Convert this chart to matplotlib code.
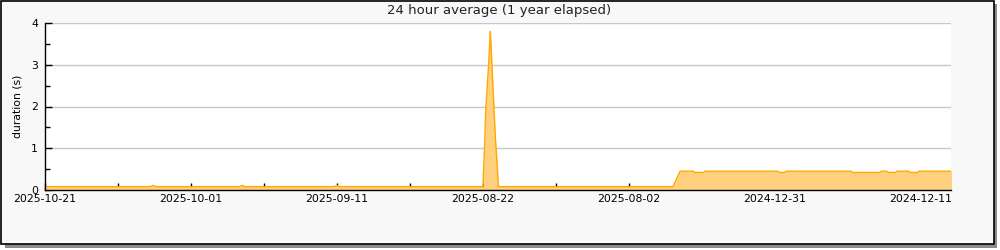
import matplotlib
matplotlib.use("Agg")
import matplotlib.pyplot as plt
from matplotlib.patches import Rectangle

# sample position (days back from 2025-10-21, gaps in data are skipped) and 24h average
day = [0, 14.4, 14.8, 15.2, 26.6, 27.0, 27.4, 39.6, 40.0, 40.4,
       60.0, 60.04, 60.18, 60.37, 60.59, 60.78, 60.92, 61.0, 61.14, 61.33,
       61.51, 61.68, 61.92, 62.1,
       86.0, 87.0, 88.8, 89.0, 90.2, 90.4, 100.4, 100.6, 101.3, 101.5,
       110.4, 110.6, 114.4, 114.6, 115.3, 115.5, 116.5, 116.7, 118.3, 118.5,
       119.5, 119.7, 124.2]
duration = [0.08, 0.08, 0.11, 0.08, 0.08, 0.11, 0.08, 0.08, 0.11, 0.08,
            0.08, 0.36, 0.88, 1.92, 2.52, 3.04, 3.52, 3.80, 3.32, 2.56,
            1.92, 1.28, 0.64, 0.08,
            0.08, 0.45, 0.45, 0.42, 0.42, 0.45, 0.45, 0.42, 0.42, 0.45,
            0.45, 0.42, 0.42, 0.45, 0.45, 0.42, 0.42, 0.45, 0.45, 0.42,
            0.42, 0.45, 0.45]

tick_labels = ["2025-10-21", "2025-10-01", "2025-09-11", "2025-08-22",
               "2025-08-02", "2024-12-31", "2024-12-11"]
tick_days = [20 * i for i in range(len(tick_labels))]
minor_days = [10 + 20 * i for i in range(len(tick_labels) - 1)]

fig = plt.figure(figsize=(10, 2.5), dpi=100)
fig.patch.set_facecolor("white")

# shadow and framed panel
fig.patches.append(Rectangle((0.005, 0.008), 0.992, 0.976, transform=fig.transFigure,
                             facecolor="#8c8c8c", edgecolor="none", zorder=-2))
fig.patches.append(Rectangle((0.0005, 0.024), 0.9935, 0.974, transform=fig.transFigure,
                             facecolor="#f8f8f8", edgecolor="black", linewidth=1.2, zorder=-1))

ax = fig.add_axes([0.045, 0.24, 0.906, 0.668])
ax.set_zorder(2)
ax.set_facecolor("white")
ax.fill_between(day, duration, 0, color="#ffd17f", linewidth=0, zorder=2)
ax.plot(day, duration, color="#ffa800", linewidth=1.0, zorder=3)

ax.set_xlim(0, 124.1)
ax.set_ylim(0, 4)
ax.set_xticks(tick_days)
ax.set_xticklabels(tick_labels)
ax.set_xticks(minor_days, minor=True)
ax.set_yticks([0, 1, 2, 3, 4])
ax.set_yticks([0.5, 1.5, 2.5, 3.5], minor=True)
ax.grid(axis="y", which="major", color="#c8c8c8", linewidth=1.0, zorder=1)
ax.set_axisbelow(True)

for s in ["top", "right"]:
    ax.spines[s].set_visible(False)
for s in ["left", "bottom"]:
    ax.spines[s].set_linewidth(1.0)
    ax.spines[s].set_zorder(5)

ax.tick_params(axis="x", which="both", direction="in", length=5, width=1, labelsize=7.8, pad=3)
ax.tick_params(axis="y", which="major", direction="in", length=5, width=1, labelsize=7.8, pad=5)
ax.tick_params(axis="y", which="minor", direction="in", length=3.3, width=1)

ax.set_ylabel("duration (s)", fontsize=7.8)
ax.yaxis.set_label_coords(-0.0245, 0.5)
fig.text(0.499, 0.958, "24 hour average (1 year elapsed)", ha="center", va="center",
         fontsize=9.5, color="#222222")

fig.savefig("out.png", dpi=100, facecolor=fig.get_facecolor())
